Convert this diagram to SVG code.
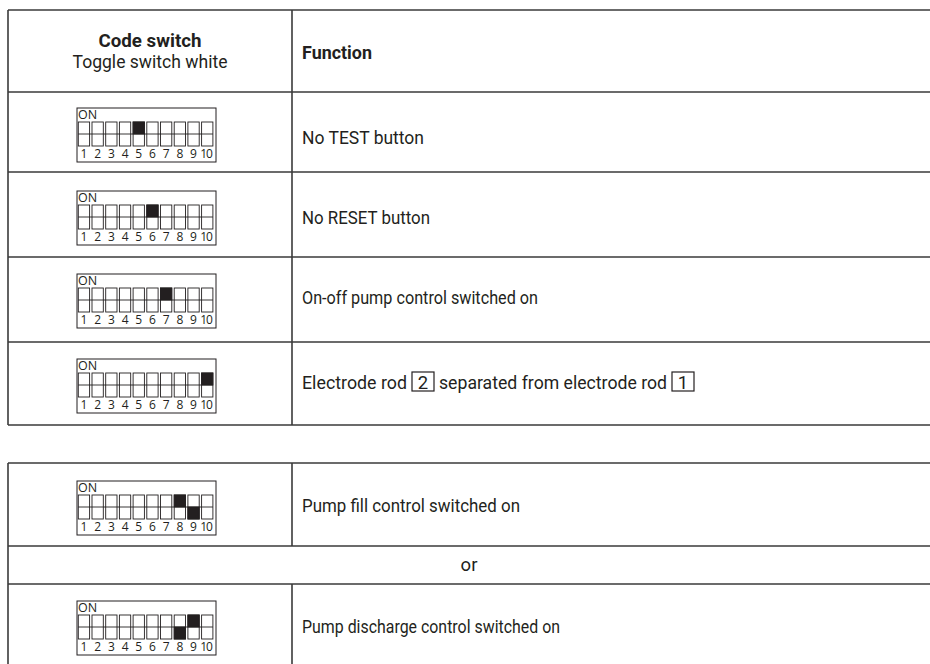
<svg xmlns="http://www.w3.org/2000/svg" xmlns:xlink="http://www.w3.org/1999/xlink" width="930" height="664" viewBox="0 0 930 664">
<style>
.grid{stroke:#3a3a3a;stroke-width:1.6;fill:none}
.t{font-family:Roboto,"Liberation Sans",sans-serif;font-size:18.5px;fill:#231f20}
.b{font-weight:bold}
.dbox{fill:#fff;stroke:#231f20;stroke-width:1}
.sw{fill:none;stroke:#231f20;stroke-width:0.9}
.on{fill:#231f20;stroke:#231f20;stroke-width:0.9}
.dt{font-family:"Open Sans","Liberation Sans",sans-serif;fill:#231f20}
.nb{fill:none;stroke:#231f20;stroke-width:1.2}
</style>
<defs>
<g id="dip">
<rect class="dbox" x="0" y="0" width="139" height="54"/>
<text class="dt" x="1" y="10.5" font-size="12.5">ON</text>
<rect class="sw" x="1.3" y="14" width="11.3" height="24"/>
<rect class="sw" x="15" y="14" width="11.3" height="24"/>
<rect class="sw" x="28.7" y="14" width="11.3" height="24"/>
<rect class="sw" x="42.4" y="14" width="11.3" height="24"/>
<rect class="sw" x="56.1" y="14" width="11.3" height="24"/>
<rect class="sw" x="69.8" y="14" width="11.3" height="24"/>
<rect class="sw" x="83.5" y="14" width="11.3" height="24"/>
<rect class="sw" x="97.2" y="14" width="11.3" height="24"/>
<rect class="sw" x="110.9" y="14" width="11.3" height="24"/>
<rect class="sw" x="124.6" y="14" width="11.3" height="24"/>
<line class="sw" x1="1.3" y1="26" x2="135.9" y2="26"/>
<g class="dt" font-size="12" text-anchor="middle">
<text x="7" y="50">1</text><text x="20.7" y="50">2</text><text x="34.4" y="50">3</text><text x="48.1" y="50">4</text><text x="61.8" y="50">5</text><text x="75.5" y="50">6</text><text x="89.2" y="50">7</text><text x="102.9" y="50">8</text><text x="116.5" y="50">9</text><text x="129" y="50" letter-spacing="-1">10</text>
</g>
</g>
</defs>

<g id="connectors" class="grid">
<line x1="8" y1="10" x2="930" y2="10"/>
<line x1="8" y1="92" x2="930" y2="92"/>
<line x1="8" y1="172" x2="930" y2="172"/>
<line x1="8" y1="257" x2="930" y2="257"/>
<line x1="8" y1="342" x2="930" y2="342"/>
<line x1="8" y1="425" x2="930" y2="425"/>
<line x1="8" y1="10" x2="8" y2="425"/>
<line x1="292" y1="10" x2="292" y2="425"/>
<line x1="8" y1="463" x2="930" y2="463"/>
<line x1="8" y1="546" x2="930" y2="546"/>
<line x1="8" y1="584" x2="930" y2="584"/>
<line x1="8" y1="463" x2="8" y2="664"/>
<line x1="292" y1="463" x2="292" y2="546"/>
<line x1="292" y1="584" x2="292" y2="664"/>
</g>

<g id="header">
<text class="t b" x="150" y="47" text-anchor="middle" textLength="103" lengthAdjust="spacingAndGlyphs">Code switch</text>
<text class="t" x="150" y="68" text-anchor="middle" textLength="155" lengthAdjust="spacingAndGlyphs">Toggle switch white</text>
<text class="t b" x="302" y="59" textLength="70" lengthAdjust="spacingAndGlyphs">Function</text>
</g>

<g id="row1">
<use xlink:href="#dip" x="77" y="108"/>
<rect class="on" x="133.1" y="122" width="11.3" height="12"/>
<text class="t" x="302" y="144" textLength="122" lengthAdjust="spacingAndGlyphs">No TEST button</text>
</g>

<g id="row2">
<use xlink:href="#dip" x="77" y="191"/>
<rect class="on" x="146.8" y="205" width="11.3" height="12"/>
<text class="t" x="302" y="224" textLength="128" lengthAdjust="spacingAndGlyphs">No RESET button</text>
</g>

<g id="row3">
<use xlink:href="#dip" x="77" y="274"/>
<rect class="on" x="160.5" y="288" width="11.3" height="12"/>
<text class="t" x="302" y="304" textLength="236" lengthAdjust="spacingAndGlyphs">On-off pump control switched on</text>
</g>

<g id="row4">
<use xlink:href="#dip" x="77" y="359"/>
<rect class="on" x="201.6" y="373" width="11.3" height="12"/>
<text class="t" x="302" y="389" textLength="105" lengthAdjust="spacingAndGlyphs">Electrode rod</text>
<rect class="nb" x="412" y="372" width="22" height="19"/>
<text class="t" x="423" y="388.5" text-anchor="middle" font-size="20">2</text>
<text class="t" x="439" y="389" textLength="228" lengthAdjust="spacingAndGlyphs">separated from electrode rod</text>
<rect class="nb" x="672" y="372" width="22" height="19"/>
<text class="t" x="683" y="388.5" text-anchor="middle" font-size="20">1</text>
</g>

<g id="row5">
<use xlink:href="#dip" x="77" y="481"/>
<rect class="on" x="174.2" y="495" width="11.3" height="12"/>
<rect class="on" x="187.9" y="507" width="11.3" height="12"/>
<text class="t" x="302" y="512" textLength="218" lengthAdjust="spacingAndGlyphs">Pump fill control switched on</text>
</g>

<g id="row-or">
<text class="t" x="469" y="571" text-anchor="middle">or</text>
</g>

<g id="row6">
<use xlink:href="#dip" x="77" y="601"/>
<rect class="on" x="174.2" y="627" width="11.3" height="12"/>
<rect class="on" x="187.9" y="615" width="11.3" height="12"/>
<text class="t" x="302" y="633" textLength="258" lengthAdjust="spacingAndGlyphs">Pump discharge control switched on</text>
</g>
</svg>
